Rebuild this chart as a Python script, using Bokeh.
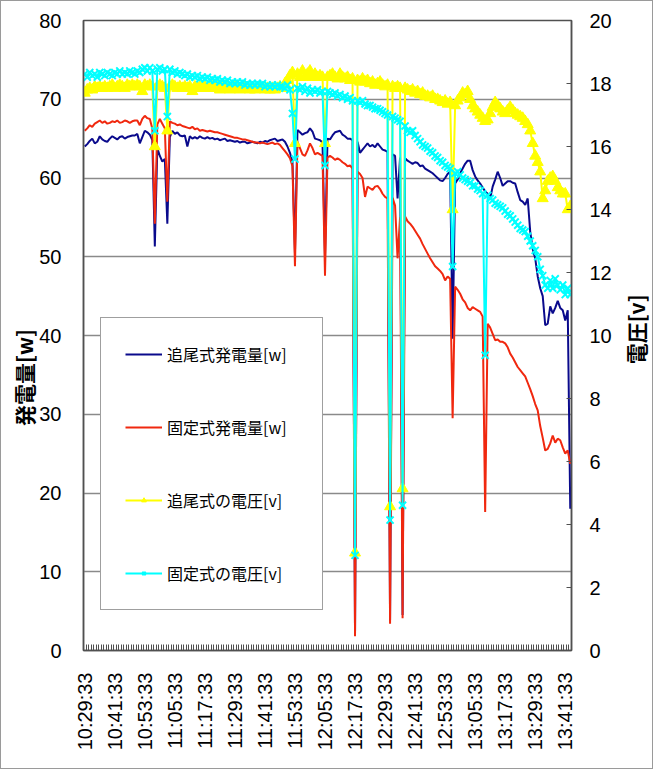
import math
import numpy as np
from bokeh.plotting import figure
from bokeh.layouts import row
from bokeh.models import (Range1d, LinearAxis, FixedTicker, Legend, LegendItem)
from bokeh.core.properties import value
from bokeh.embed import file_html
from bokeh.resources import INLINE

# ---- data (one point per minute, 10:29:33 ... 13:43:33) ----
tick_labels = ["10:29:33", "10:41:33", "10:53:33", "11:05:33", "11:17:33", "11:29:33",
               "11:41:33", "11:53:33", "12:05:33", "12:17:33", "12:29:33", "12:41:33",
               "12:53:33", "13:05:33", "13:17:33", "13:29:33", "13:41:33"]
tick_step = 12

tracking_w = [
    64.0, 64.3, 64.7, 65.0, 64.4, 64.6, 65.3, 64.9, 64.7, 64.6,
    65.0, 65.3, 65.1, 64.9, 65.2, 65.3, 65.0, 65.2, 65.3, 65.4,
    65.4, 65.6, 64.4, 65.2, 66.0, 65.8, 65.5, 64.8, 51.3, 63.8,
    62.8, 62.1, 62.4, 54.2, 65.2, 66.0, 65.6, 65.8, 65.4, 65.3,
    65.4, 64.0, 65.3, 65.0, 65.2, 65.0, 65.3, 65.1, 65.0, 65.2,
    65.0, 65.1, 64.9, 65.0, 64.8, 64.9, 65.0, 64.7, 64.8, 64.7,
    64.6, 64.7, 64.5, 64.6, 64.6, 64.4, 64.5, 64.6, 64.5, 64.4,
    64.6, 64.5, 64.7, 64.6, 64.8, 64.9, 65.0, 64.7, 64.8, 64.9,
    64.6, 64.0, 63.2, 62.0, 50.5, 66.1, 65.8, 65.5, 65.7, 65.8,
    66.3, 65.9, 65.0, 64.9, 64.8, 64.5, 50.0, 65.0, 64.9, 65.4,
    65.8, 65.9, 66.0, 65.5, 65.3, 65.0, 65.0, 64.8, 2.2, 64.6,
    63.2, 63.6, 64.0, 64.4, 64.0, 64.2, 63.9, 64.4, 64.0, 63.6,
    63.5, 63.3, 3.8, 63.0, 62.8, 57.4, 62.6, 4.5, 62.5, 62.2,
    62.0, 61.8, 62.0, 61.9, 61.5, 61.6, 61.2, 61.0, 60.8, 60.6,
    60.3, 60.0, 59.7, 59.6, 60.0, 60.5, 60.8, 39.6, 59.3, 59.8,
    60.6, 61.2, 61.8, 62.2, 62.2, 61.0, 60.2, 59.7, 59.3, 58.8,
    58.3, 58.0, 57.4, 58.9, 59.8, 60.8, 60.0, 59.0, 59.3, 59.6,
    59.6, 59.4, 59.3, 58.2, 57.2, 57.0, 56.6, 57.4, 53.2, 51.0,
    49.8, 47.5, 46.0, 45.0, 41.3, 41.5, 43.7, 42.8, 43.5, 44.4,
    43.5, 43.2, 41.9, 43.2, 18.0]

fixed_w = [
    66.0, 66.3, 66.7, 66.5, 66.9, 67.1, 67.3, 67.0, 67.2, 66.9,
    67.0, 67.2, 67.1, 67.3, 67.0, 67.1, 67.3, 67.2, 67.0, 67.2,
    67.3, 67.3, 66.7, 67.5, 67.9, 67.6, 67.5, 66.3, 54.2, 66.8,
    67.5, 66.9, 66.3, 57.0, 67.2, 67.0, 66.9, 66.7, 66.8, 66.6,
    66.5, 66.4, 66.3, 66.5, 66.2, 66.3, 66.0, 66.1, 66.0, 65.9,
    66.0, 65.9, 65.8, 65.8, 65.7, 65.6, 65.5, 65.4, 65.3, 65.2,
    65.1, 65.1, 65.0, 64.9, 64.9, 64.8, 64.7, 64.6, 64.5, 64.5,
    64.4, 64.5, 64.4, 64.3, 64.4, 64.5, 64.3, 64.4, 64.2, 63.8,
    63.4, 63.0, 62.5, 61.5, 48.8, 64.6, 63.8, 63.0, 62.8, 63.5,
    64.4, 63.8, 63.0, 63.2, 63.0, 62.8, 47.6, 62.6, 62.8, 62.6,
    62.3, 62.5, 62.3, 62.0, 61.8, 61.5, 61.6, 61.2, 1.8, 60.8,
    60.5, 60.0, 57.6, 58.9, 58.7, 58.5, 58.9, 59.0, 58.6, 58.0,
    57.6, 57.4, 3.4, 57.5, 56.5, 49.8, 55.0, 4.1, 55.1, 54.5,
    54.2, 53.8, 53.3, 52.8, 52.3, 51.6, 51.0, 50.4, 49.8, 49.3,
    48.8, 48.5, 48.2, 47.8, 47.0, 47.5, 47.2, 29.5, 46.2, 45.8,
    45.3, 44.6, 44.2, 43.5, 43.2, 43.6, 43.4, 43.2, 43.0, 42.4,
    17.6, 41.5, 41.0, 40.2, 39.4, 39.5, 39.2, 39.2, 39.0, 38.5,
    37.7, 37.2, 36.6, 36.0, 35.6, 35.2, 34.8, 34.0, 33.2, 32.3,
    31.3, 30.5, 28.5, 27.0, 25.4, 25.6, 26.3, 27.3, 26.4, 26.9,
    26.7, 25.8, 25.0, 25.4, 23.7]

tracking_v = [
    17.70, 17.80, 17.85, 17.80, 17.90, 17.85, 17.90, 17.85, 17.90, 17.85,
    17.90, 17.95, 17.85, 17.90, 17.95, 17.90, 17.85, 17.95, 17.90, 17.95,
    17.90, 17.95, 17.90, 17.75, 17.95, 17.90, 17.95, 17.90, 16.00, 17.90,
    17.95, 17.90, 17.85, 16.50, 17.90, 17.95, 17.90, 17.85, 17.90, 17.85,
    17.90, 17.85, 17.90, 17.75, 17.90, 17.85, 17.90, 17.85, 17.90, 17.85,
    17.85, 17.90, 17.85, 17.90, 17.80, 17.85, 17.90, 17.85, 17.80, 17.85,
    17.90, 17.85, 17.80, 17.85, 17.90, 17.85, 17.80, 17.85, 17.80, 17.85,
    17.90, 17.85, 17.80, 17.85, 17.80, 17.85, 17.80, 17.85, 17.90, 17.85,
    18.00, 18.10, 18.25, 18.35, 16.10, 18.30, 18.20, 18.40, 18.20, 18.30,
    18.40, 18.20, 18.30, 18.20, 18.25, 18.20, 16.10, 18.20, 18.25, 18.30,
    18.20, 18.15, 18.30, 18.20, 18.15, 18.20, 18.10, 18.15, 3.10, 18.10,
    18.05, 18.15, 18.05, 18.10, 18.00, 18.05, 17.95, 18.00, 18.05, 17.95,
    17.90, 17.95, 4.57, 17.90, 17.85, 17.90, 17.85, 5.14, 17.85, 17.80,
    17.75, 17.80, 17.70, 17.75, 17.65, 17.70, 17.60, 17.60, 17.55, 17.60,
    17.50, 17.50, 17.45, 17.40, 17.45, 17.35, 17.40, 14.00, 17.30, 17.45,
    17.55, 17.70, 17.65, 17.75, 17.50, 17.30, 17.20, 17.10, 17.00, 16.90,
    16.80, 16.85, 17.05, 17.25, 17.40, 17.30, 17.20, 17.10, 17.05, 17.15,
    17.25, 17.15, 17.05, 17.00, 16.95, 16.90, 16.80, 16.70, 16.50, 16.10,
    15.70, 15.50, 15.20, 14.35, 14.60, 14.90, 15.00, 15.05, 14.90, 14.70,
    14.60, 14.50, 14.50, 14.00, 14.10]

fixed_v = [
    18.30, 18.20, 18.35, 18.25, 18.30, 18.20, 18.35, 18.30, 18.25, 18.35,
    18.30, 18.25, 18.35, 18.30, 18.40, 18.30, 18.35, 18.30, 18.40, 18.35,
    18.30, 18.40, 18.35, 18.45, 18.50, 18.40, 18.50, 18.40, 16.50, 18.45,
    18.50, 18.40, 18.45, 16.95, 18.45, 18.35, 18.40, 18.30, 18.35, 18.30,
    18.25, 18.30, 18.20, 18.25, 18.20, 18.25, 18.15, 18.20, 18.15, 18.20,
    18.10, 18.15, 18.10, 18.15, 18.05, 18.10, 18.05, 18.10, 18.00, 18.05,
    18.00, 18.05, 18.00, 18.05, 17.95, 18.00, 17.95, 18.00, 17.95, 18.00,
    17.95, 18.00, 17.90, 17.95, 17.90, 17.95, 17.90, 17.95, 17.90, 17.90,
    17.85, 17.95, 17.80, 17.05, 15.60, 17.85, 17.80, 17.90, 17.75, 17.85,
    17.70, 17.80, 17.75, 17.80, 17.70, 17.75, 15.40, 17.75, 17.70, 17.65,
    17.70, 17.60, 17.65, 17.55, 17.60, 17.50, 17.55, 17.45, 3.02, 17.45,
    17.40, 17.45, 17.35, 17.30, 17.30, 17.25, 17.20, 17.20, 17.15, 17.10,
    17.05, 17.00, 4.14, 16.95, 16.90, 16.85, 16.80, 4.61, 16.65, 16.50,
    16.45, 16.50, 16.35, 16.25, 16.15, 16.05, 16.00, 15.95, 15.85, 15.80,
    15.70, 15.65, 15.55, 15.50, 15.40, 15.35, 15.30, 12.19, 15.15, 15.20,
    15.10, 15.00, 14.95, 14.90, 14.85, 14.75, 14.75, 14.65, 14.60, 14.50,
    9.37, 14.45, 14.35, 14.30, 14.20, 14.15, 14.10, 14.05, 13.95, 13.85,
    13.80, 13.70, 13.60, 13.50, 13.40, 13.35, 13.30, 13.15, 13.00, 12.85,
    12.70, 12.50, 12.10, 11.90, 11.60, 11.50, 11.75, 11.50, 11.80, 11.60,
    11.45, 11.60, 11.30, 11.50, 11.30]

series_names = ["追尾式発電量[w]", "固定式発電量[w]", "追尾式の電圧[v]", "固定式の電圧[v]"]
y_left_title = "発電量[w]"
y_right_title = "電圧[v]"

n = len(tracking_w)
x = np.arange(n)

NUM_FONT = "Liberation Sans"
JP_FONT = "Noto Sans CJK JP"
PAD = "\u3000"  # ideographic space, used only to shift the rotated title along the axis

MAIN_W, SIDE_W, H = 620, 31, 767

p = figure(width=MAIN_W, height=H, output_backend="svg", toolbar_location=None,
           x_range=Range1d(-0.5, n - 0.5), y_range=Range1d(0, 80),
           min_border_left=82, min_border_right=50, min_border_top=19,
           min_border_bottom=118)
p.extra_y_ranges = {"v": Range1d(0, 20)}
p.background_fill_color = "white"
p.border_fill_color = "white"
p.outline_line_color = "#505050"
p.outline_line_width = 1.5

# grid
p.xgrid.visible = False
p.ygrid.ticker = FixedTicker(ticks=list(range(0, 81, 10)))
p.ygrid.grid_line_color = "#8a8a8a"
p.ygrid.grid_line_width = 1.6

# x axis
xa = p.xaxis[0]
xa.ticker = FixedTicker(ticks=[k * tick_step for k in range(len(tick_labels))],
                        minor_ticks=[k - 0.5 for k in range(n + 1)])
xa.major_label_overrides = {k * tick_step: t for k, t in enumerate(tick_labels)}
xa.major_label_orientation = math.pi / 2
xa.major_tick_in = 0
xa.major_tick_out = 0
xa.minor_tick_in = 6
xa.minor_tick_out = 0
xa.minor_tick_line_color = "#505050"
xa.axis_line_color = "#505050"
xa.axis_line_width = 1.5
xa.major_label_standoff = 22
xa.major_label_text_font = NUM_FONT
xa.major_label_text_font_size = "20px"
xa.major_label_text_color = "black"

# left axis
ya = p.yaxis[0]
ya.ticker = FixedTicker(ticks=list(range(0, 81, 10)))
ya.major_tick_in = 0
ya.major_tick_out = 0
ya.minor_tick_line_color = None
ya.axis_line_color = "#505050"
ya.axis_line_width = 1.5
ya.major_label_standoff = 22
ya.major_label_text_font = NUM_FONT
ya.major_label_text_font_size = "20px"
ya.major_label_text_color = "black"
ya.axis_label = y_left_title + PAD * 4
ya.axis_label_text_font = JP_FONT
ya.axis_label_text_font_size = "21px"
ya.axis_label_text_font_style = "bold"
ya.axis_label_text_color = "black"
ya.axis_label_standoff = -3

# right axis
ra = LinearAxis(y_range_name="v", ticker=FixedTicker(ticks=list(range(0, 21, 2))))
ra.major_tick_in = 5
ra.major_tick_out = 0
ra.minor_tick_line_color = None
ra.axis_line_color = "#505050"
ra.axis_line_width = 1.5
ra.major_tick_line_color = "#505050"
ra.major_label_standoff = 18
ra.major_label_text_font = NUM_FONT
ra.major_label_text_font_size = "20px"
ra.major_label_text_color = "black"
p.add_layout(ra, "right")

# series
r_tw = p.line(x, tracking_w, line_color="#0a0a8c", line_width=2)
r_fw = p.line(x, fixed_w, line_color="#f0280f", line_width=2)
r_tv_l = p.line(x, tracking_v, y_range_name="v", line_color="#ffff00", line_width=2)
r_tv_m = p.scatter(x, tracking_v, y_range_name="v", marker="triangle", size=11,
                   fill_color="#ffff00", line_color="#ffff00", line_width=1)
r_fv_l = p.line(x, fixed_v, y_range_name="v", line_color="#00ffff", line_width=2)
r_fv_m = p.scatter(x, fixed_v, y_range_name="v", marker="x", size=10,
                   line_color="#00ffff", line_width=2)

legend = Legend(items=[
    LegendItem(label=series_names[0], renderers=[r_tw]),
    LegendItem(label=series_names[1], renderers=[r_fw]),
    LegendItem(label=series_names[2], renderers=[r_tv_l, r_tv_m]),
    LegendItem(label=series_names[3], renderers=[r_fv_l, r_fv_m]),
], location=(17, 40))
legend.label_text_font = JP_FONT
legend.label_text_font_size = "16px"
legend.label_text_color = "black"
legend.label_height = 12
legend.glyph_height = 12
legend.glyph_width = 37
legend.label_standoff = 5
legend.label_width = 131
legend.spacing = 49
legend.padding = 24
legend.margin = 0
legend.border_line_color = "#404040"
legend.border_line_width = 1.2
legend.background_fill_color = "white"
legend.background_fill_alpha = 1.0
p.add_layout(legend, "center")

# narrow side strip that carries the right-hand axis title (read bottom to top)
side = figure(width=SIDE_W, height=H, output_backend="svg", toolbar_location=None,
              x_range=Range1d(0, SIDE_W), y_range=Range1d(0, H),
              x_axis_location=None, y_axis_location=None,
              min_border_left=0, min_border_right=0, min_border_top=0, min_border_bottom=0)
side.outline_line_color = None
side.xgrid.visible = False
side.ygrid.visible = False
side.background_fill_color = "white"
side.border_fill_color = "white"
side.text(x=[14], y=[391], text=[y_right_title], angle=math.pi / 2,
          text_align="center", text_baseline="middle",
          text_font=value(JP_FONT), text_font_size=value("21px"),
          text_font_style="bold", text_color="black")

layout = row(p, side, spacing=0)
layout.styles = {"border": "1px solid #9a9a9a"}

open("out.html", "w").write(file_html(layout, INLINE))
